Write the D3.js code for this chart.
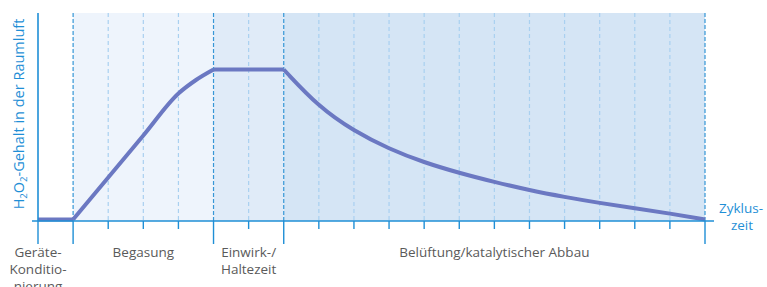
<!DOCTYPE html>
<html>
<head>
<meta charset="utf-8">
<script src="https://cdn.jsdelivr.net/npm/d3@7"></script>
<style>
  body { margin: 0; background: #fff; }
  text { font-family: "Open Sans", "Noto Sans", sans-serif; }
</style>
</head>
<body>
<svg id="chart" width="767" height="287"></svg>
<script>
// time in tick units (20 ticks), concentration in % of plateau
const zeit   = [0, 1, 2, 3, 4, 4.5, 5, 7, 8, 9, 10, 11, 12, 13, 14, 15, 16, 17, 18, 19];
const gehalt = [0, 0, 28, 56, 84, 93, 100, 100, 75, 59, 47, 38, 31, 25, 19.5, 15, 11, 7.5, 4, 0];

const phasen = [
  { name: ["Geräte-", "Konditio-", "nierung"], von: 0, bis: 1, fill: "#ffffff", curve: d3.curveLinear, labelAt: 0 },
  { name: ["Begasung"], von: 1, bis: 5, fill: "#eef4fc", curve: d3.curveMonotoneX, labelAt: 3 },
  { name: ["Einwirk-/", "Haltezeit"], von: 5, bis: 7, fill: "#e0ebf8", curve: d3.curveLinear, labelAt: 6 },
  { name: ["Belüftung/katalytischer Abbau"], von: 7, bis: 19, fill: "#d5e5f5", curve: d3.curveBasis, labelAt: 13 }
];
const ticks = d3.range(0, 20);
const majorTicks = [0, 1, 5, 7, 19];

const svg = d3.select("#chart");
const x = d3.scaleLinear().domain([0, 19]).range([38, 705]);
const y = d3.scaleLinear().domain([0, 100]).range([219.5, 69.5]);
const topY = 13, axisY = 221;
const blue = "#1f8fd6";

// phase backgrounds
svg.selectAll("rect.phase")
  .data(phasen.filter(p => p.von > 0))
  .enter().append("rect")
  .attr("x", d => x(d.von))
  .attr("y", topY)
  .attr("width", d => x(d.bis) - x(d.von))
  .attr("height", axisY - topY)
  .attr("fill", d => d.fill);

// dashed grid lines
svg.selectAll("line.grid")
  .data(ticks.filter(t => t > 0))
  .enter().append("line")
  .attr("x1", d => x(d)).attr("x2", d => x(d))
  .attr("y1", topY).attr("y2", axisY)
  .attr("stroke", d => majorTicks.includes(d) ? "#3596d6" : "#a9d0f0")
  .attr("stroke-width", 1.2)
  .attr("stroke-dasharray", d => majorTicks.includes(d) ? "4,2" : "4,3");

// curve, phase by phase so corners stay sharp
const pts = zeit.map((t, i) => [t, gehalt[i]]);
phasen.forEach(p => {
  const seg = pts.filter(d => d[0] >= p.von && d[0] <= p.bis);
  const line = d3.line()
    .x(d => x(d[0])).y(d => y(d[1]))
    .curve(p.curve);
  svg.append("path")
    .attr("d", line(seg))
    .attr("fill", "none")
    .attr("stroke", "#6b78c2")
    .attr("stroke-width", 4)
    .attr("stroke-linejoin", "round");
});

// axes
svg.append("line")
  .attr("x1", 38).attr("x2", 38).attr("y1", topY).attr("y2", axisY)
  .attr("stroke", blue).attr("stroke-width", 1.6);
svg.append("line")
  .attr("x1", 32).attr("x2", 714).attr("y1", axisY).attr("y2", axisY)
  .attr("stroke", blue).attr("stroke-width", 1.6);

svg.selectAll("line.tick")
  .data(ticks)
  .enter().append("line")
  .attr("x1", d => x(d)).attr("x2", d => x(d))
  .attr("y1", axisY)
  .attr("y2", d => majorTicks.includes(d) ? 244 : 229)
  .attr("stroke", blue).attr("stroke-width", 1.4);

// phase labels
phasen.forEach(p => {
  const t = svg.append("text")
    .attr("y", 257)
    .attr("text-anchor", "middle")
    .attr("fill", "#5a5a5a")
    .attr("font-size", 13.5);
  p.name.forEach((s, i) => {
    t.append("tspan").attr("x", x(p.labelAt))
      .attr("dy", i === 0 ? 0 : 17).text(s);
  });
});

// x axis title
const xt = svg.append("text")
  .attr("y", 213)
  .attr("text-anchor", "middle")
  .attr("fill", blue)
  .attr("font-size", 13.5);
xt.append("tspan").attr("x", 741).text("Zyklus-");
xt.append("tspan").attr("x", 742).attr("dy", 17).text("zeit");

// y axis title
const yt = svg.append("text")
  .attr("transform", "translate(24,114) rotate(-90)")
  .attr("text-anchor", "middle")
  .attr("fill", blue)
  .attr("font-size", 14.5);
yt.append("tspan").text("H");
yt.append("tspan").attr("font-size", 9.5).attr("dy", 3).text("2");
yt.append("tspan").attr("dy", -3).text("O");
yt.append("tspan").attr("font-size", 9.5).attr("dy", 3).text("2");
yt.append("tspan").attr("dy", -3).text("-Gehalt in der Raumluft");
</script>
</body>
</html>
